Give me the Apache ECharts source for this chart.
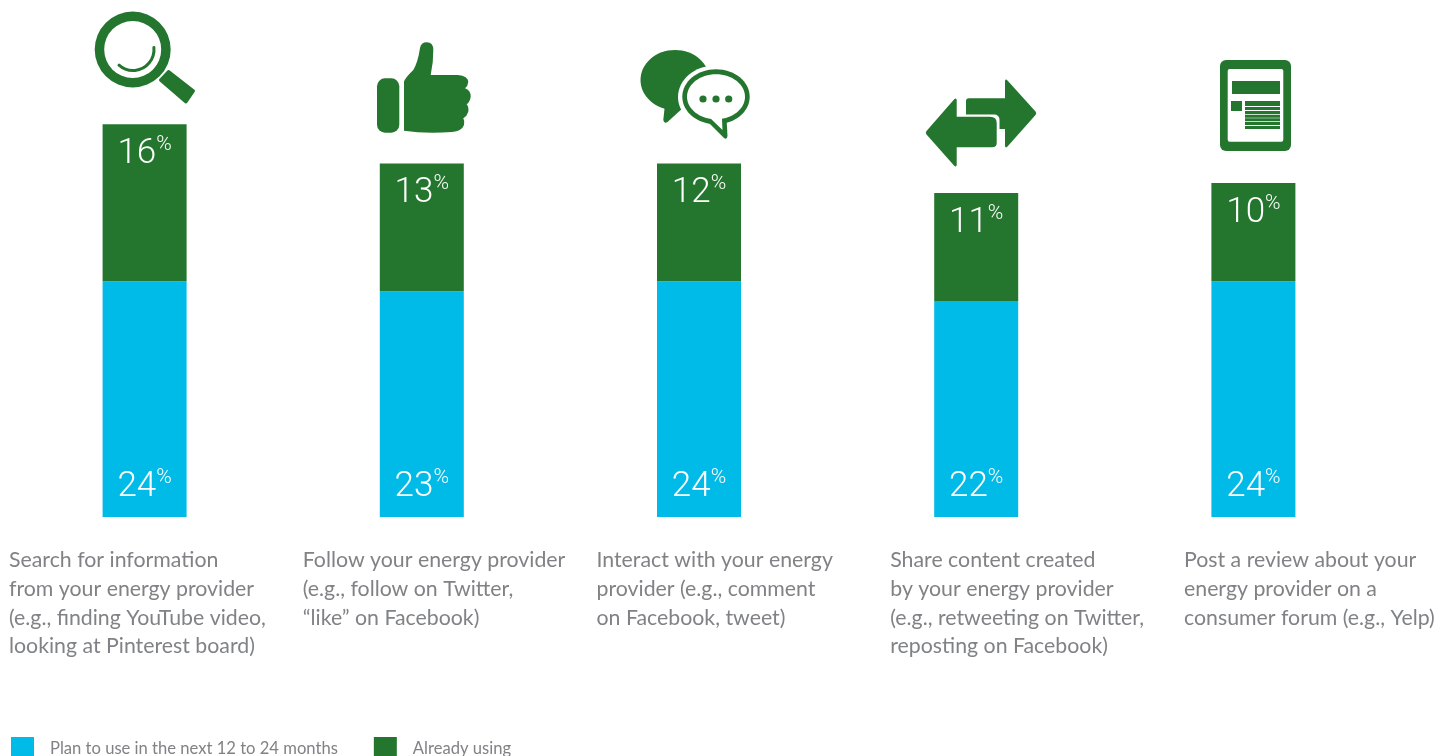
<!DOCTYPE html>
<html>
<head>
<meta charset="utf-8">
<style>html,body{margin:0;padding:0;background:#fff;overflow:hidden}#chart{width:1455px;height:756px}</style>
<script src="https://cdn.jsdelivr.net/npm/echarts@6/dist/echarts.min.js"></script>
</head>
<body>
<div id="chart"></div>
<script>
// Digital engagement activities with an energy provider
const categories = [
  'Search for information\nfrom your energy provider\n(e.g., finding YouTube video,\nlooking at Pinterest board)',
  'Follow your energy provider\n(e.g., follow on Twitter,\n“like” on Facebook)',
  'Interact with your energy\nprovider (e.g., comment\non Facebook, tweet)',
  'Share content created\nby your energy provider\n(e.g., retweeting on Twitter,\nreposting on Facebook)',
  'Post a review about your\nenergy provider on a\nconsumer forum (e.g., Yelp)'
];
const planToUse = [24, 23, 24, 22, 24];
const alreadyUsing = [16, 13, 12, 11, 10];
const seriesNames = ['Plan to use in the next 12 to 24 months', 'Already using'];

const GREEN = '#24762e';
const BLUE = '#00bbe7';
const GREY = '#808285';
const FONT = 'Lato, "Noto Sans", sans-serif';
const FIGURE_FONT = 'Roboto, Lato, sans-serif';

const valueLabel = (position, distance) => ({
  show: true,
  position,
  distance,
  formatter: p => `{n|${p.value}}{p|%}`,
  rich: {
    n: { fontFamily: FIGURE_FONT, fontWeight: 300, fontSize: 35, lineHeight: 40, color: '#fff' },
    p: { fontFamily: FIGURE_FONT, fontWeight: 300, fontSize: 21, lineHeight: 31, verticalAlign: 'top', color: '#fff' }
  }
});

const solid = { fill: GREEN };
const white = { fill: '#fff' };

// Registers an SVG outline as a graphic shape and returns its element option
let shapeCount = 0;
function outline(pathData, style) {
  const name = 'activityOutline' + (shapeCount++);
  echarts.graphic.registerShape(name, echarts.graphic.extendPath(pathData, {}));
  return { type: name, style };
}

// Activity pictograms above each column
const icons = [
  // magnifying glass
  { type: 'ring', shape: { cx: 132.7, cy: 49.5, r: 38, r0: 28.5 }, style: solid },
  { type: 'arc', shape: { cx: 133, cy: 49.5, r: 21, startAngle: -0.1, endAngle: 2.3, clockwise: true },
    style: { fill: null, stroke: GREEN, lineWidth: 3, lineCap: 'round' } },
  outline('M160.5 80 L168.5 71.5 L193.5 91 L186 102 Z', { fill: GREEN, stroke: GREEN, lineWidth: 3, lineJoin: 'round' }),
  // thumbs up
  { type: 'rect', shape: { x: 377, y: 78.3, width: 22.3, height: 54.4, r: 8 }, style: solid },
  outline('M404 130.7 L404 81.7 Q405 78 413.3 70 Q418 62 420 48 Q421 42.3 426.7 42.3 Q433.5 42.5 433.3 50 Q433.5 62 430.7 75 L458 75 Q468 76 468.3 81.7 Q468 86 465 88.3 Q470.7 90 470.7 96.7 Q470 102 466.7 104.3 Q469 107 468.3 111.7 Q467 116 463.3 118.3 Q465 121 464 125 Q462 131 452 132 Q425 134 404 130.7 Z', solid),
  // speech bubbles
  { type: 'ellipse', shape: { cx: 675, cy: 80, rx: 34.5, ry: 30 }, style: solid },
  outline('M665 104 L663.3 120 Q664 124 667.5 122 L684 107 Z', solid),
  { type: 'ellipse', shape: { cx: 715, cy: 97, rx: 37, ry: 31.5 }, style: white },
  { type: 'ellipse', shape: { cx: 716, cy: 96.7, rx: 33.7, ry: 27.5 }, style: solid },
  outline('M707 121 L724 138 Q727 140 727.5 136 L726.5 118 Z', solid),
  { type: 'ellipse', shape: { cx: 716, cy: 96.7, rx: 29, ry: 22.5 }, style: white },
  outline('M708 116 L722.5 130 L721.8 115 Z', white),
  { type: 'circle', shape: { cx: 703, cy: 99, r: 3.6 }, style: solid },
  { type: 'circle', shape: { cx: 716, cy: 99, r: 3.6 }, style: solid },
  { type: 'circle', shape: { cx: 728.7, cy: 99, r: 3.6 }, style: solid },
  // share arrows
  outline('M966 101 Q966 98.3 969 98.3 L1005 98.3 L1005 81 Q1005.5 78.5 1007.5 80.5 L1035.5 111.5 Q1037 113.3 1035.5 115 L1007.5 146.5 Q1005.5 148.5 1005 146 L1005 129 L966 129 Z', solid),
  { type: 'rect', shape: { x: 950, y: 114.5, width: 49.5, height: 36, r: [0, 5, 0, 0] }, style: white },
  outline('M926.5 131 L954 99.5 Q956.3 97.2 956.7 100 L956.7 116.7 L990 116.7 Q996.7 116.7 996.7 123 L996.7 143 Q996.7 147.3 992 147.3 L956.7 147.3 L956.7 165 Q956.3 167.5 954 165.5 L926.5 134.5 Q925 132.7 926.5 131 Z', solid),
  // review article
  { type: 'rect', shape: { x: 1220, y: 60, width: 71, height: 91, r: 6 }, style: solid },
  { type: 'rect', shape: { x: 1227.7, y: 69, width: 55.6, height: 72.7, r: 2 }, style: white },
  { type: 'rect', shape: { x: 1232, y: 81, width: 48, height: 13 }, style: solid },
  { type: 'rect', shape: { x: 1231, y: 101, width: 11, height: 10 }, style: solid },
  outline('M1245 101 H1280 V106 H1245 Z M1245 107 H1280 V110 H1245 Z M1245 111 H1280 V114 H1245 Z M1245 114.7 H1280 V117.7 H1245 Z M1245 118.3 H1280 V121.3 H1245 Z M1245 122 H1280 V125 H1245 Z M1245 126 H1280 V129 H1245 Z', solid)
];

const chart = echarts.init(document.getElementById('chart'), null, { renderer: 'canvas' });
chart.setOption({
  animation: false,
  backgroundColor: '#fff',
  legend: {
    left: 11,
    top: 737,
    padding: 0,
    itemWidth: 23,
    itemHeight: 23,
    itemGap: 36,
    icon: 'rect',
    data: seriesNames,
    textStyle: { fontFamily: FONT, fontSize: 16.6, color: GREY, padding: [0, 0, 3, 11] }
  },
  grid: [
    { left: 6, width: 1386, top: 26, height: 491 },
    // carries the activity descriptions, which keep their own even rhythm
    { left: 9, width: 1175, top: 500, height: 17 }
  ],
  xAxis: [
    { gridIndex: 0, type: 'category', data: categories, show: false },
    { gridIndex: 1, type: 'category', data: categories, boundaryGap: false,
      axisLine: { show: false }, axisTick: { show: false },
      axisLabel: { interval: 0, align: 'left', verticalAlign: 'top', margin: 29,
        fontFamily: FONT, fontSize: 21.3, lineHeight: 28.7, color: GREY } }
  ],
  yAxis: [
    { gridIndex: 0, type: 'value', min: 0, max: 50, show: false },
    { gridIndex: 1, type: 'value', show: false }
  ],
  series: [
    { name: seriesNames[0], type: 'bar', stack: 'total', barWidth: 84, data: planToUse,
      itemStyle: { color: BLUE }, label: valueLabel('insideBottom', 10) },
    { name: seriesNames[1], type: 'bar', stack: 'total', barWidth: 84, data: alreadyUsing,
      itemStyle: { color: GREEN }, label: valueLabel('insideTop', 10) }
  ],
  graphic: { elements: icons.map(o => Object.assign({ silent: true }, o)) }
});
</script>
</body>
</html>
